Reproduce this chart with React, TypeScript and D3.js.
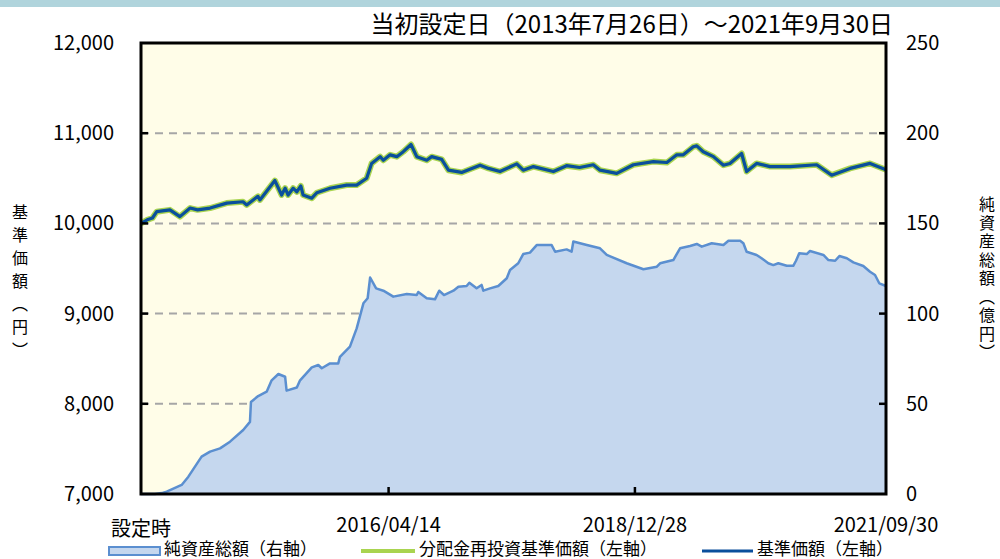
import React from 'react';
import * as d3 from 'd3';

const WIDTH = 1000;
const HEIGHT = 559;

const startDate = '2013-07-26';
const endDate = '2021-09-30';

const leftTicks = [7000, 8000, 9000, 10000, 11000, 12000];
const rightTicks = [0, 50, 100, 150, 200, 250];
const gridValues = [8000, 9000, 10000, 11000];
const dateTicks = ['2016-04-14', '2018-12-28'];
const dateLabels = [
  { date: '2016-04-14', label: '2016/04/14' },
  { date: '2018-12-28', label: '2018/12/28' },
  { date: '2021-09-30', label: '2021/09/30' },
];

// 基準価額 (円) — 分配金再投資基準価額 is identical (no distributions)
const navPoints: [string, number][] = [
  ['2013-07-26', 10000], ['2013-08-20', 10040], ['2013-09-10', 10060], ['2013-09-27', 10130],
  ['2013-11-19', 10150], ['2013-12-29', 10075], ['2014-02-08', 10170], ['2014-03-10', 10150],
  ['2014-04-29', 10170], ['2014-07-05', 10225], ['2014-09-08', 10240], ['2014-09-23', 10205],
  ['2014-11-07', 10300], ['2014-11-15', 10260], ['2015-01-14', 10475], ['2015-02-10', 10315],
  ['2015-02-24', 10390], ['2015-03-08', 10315], ['2015-03-28', 10390], ['2015-04-12', 10350],
  ['2015-04-28', 10415], ['2015-05-07', 10315], ['2015-06-11', 10280], ['2015-07-01', 10340],
  ['2015-08-23', 10390], ['2015-10-29', 10425], ['2015-12-08', 10425], ['2016-01-17', 10500],
  ['2016-02-06', 10665], ['2016-03-11', 10740], ['2016-03-24', 10700], ['2016-04-20', 10760],
  ['2016-05-17', 10740], ['2016-06-12', 10795], ['2016-07-13', 10875], ['2016-08-05', 10740],
  ['2016-09-14', 10700], ['2016-10-04', 10740], ['2016-11-13', 10710], ['2016-12-10', 10590],
  ['2017-02-01', 10565], ['2017-04-16', 10645], ['2017-05-20', 10610], ['2017-07-05', 10575],
  ['2017-09-10', 10660], ['2017-10-06', 10590], ['2017-11-16', 10630], ['2018-02-04', 10575],
  ['2018-03-29', 10640], ['2018-05-20', 10620], ['2018-07-14', 10650], ['2018-08-10', 10590],
  ['2018-10-16', 10555], ['2018-12-22', 10650], ['2019-03-12', 10685], ['2019-05-05', 10675],
  ['2019-06-14', 10760], ['2019-07-10', 10760], ['2019-08-19', 10850], ['2019-09-02', 10860],
  ['2019-09-28', 10795], ['2019-11-08', 10740], ['2019-12-18', 10645], ['2020-01-13', 10665],
  ['2020-02-29', 10775], ['2020-03-20', 10575], ['2020-04-29', 10665], ['2020-06-22', 10630],
  ['2020-09-10', 10630], ['2020-12-26', 10650], ['2021-02-24', 10535], ['2021-05-09', 10610],
  ['2021-07-28', 10665], ['2021-09-30', 10595],
];

// 純資産総額 (億円)
const assetPoints: [string, number][] = [
  ['2013-07-26', 0], ['2013-09-20', 0], ['2013-10-17', 0.5], ['2013-11-06', 1.3],
  ['2014-01-05', 5], ['2014-02-01', 9.6], ['2014-03-26', 20.7], ['2014-04-29', 23.5],
  ['2014-06-08', 25.3], ['2014-07-18', 29], ['2014-09-09', 35.5], ['2014-10-06', 40],
  ['2014-10-10', 51], ['2014-11-08', 54.3], ['2014-12-12', 56.7], ['2015-01-01', 63],
  ['2015-01-28', 66.5], ['2015-02-24', 65], ['2015-03-02', 57.3], ['2015-04-12', 59],
  ['2015-04-25', 63], ['2015-06-11', 70.2], ['2015-07-07', 71.5], ['2015-07-21', 69.7],
  ['2015-08-23', 72.4], ['2015-09-25', 72.4], ['2015-10-02', 76], ['2015-11-11', 81.7],
  ['2015-12-08', 91.8], ['2016-01-04', 105.7], ['2016-01-21', 108.5], ['2016-01-31', 120],
  ['2016-02-24', 114], ['2016-03-24', 112.7], ['2016-05-03', 109.4], ['2016-06-26', 110.9],
  ['2016-08-05', 110.3], ['2016-08-11', 112], ['2016-09-14', 108.5], ['2016-10-17', 107.9],
  ['2016-11-03', 112.7], ['2016-11-22', 110.3], ['2016-12-30', 112.7], ['2017-01-19', 114.9],
  ['2017-02-21', 115.3], ['2017-03-04', 117.1], ['2017-04-02', 114], ['2017-04-22', 115.9],
  ['2017-04-29', 112.7], ['2017-05-26', 114], ['2017-06-28', 115.3], ['2017-08-01', 119.6],
  ['2017-08-14', 124.2], ['2017-09-16', 127.9], ['2017-10-06', 133], ['2017-11-02', 133.8],
  ['2017-11-29', 138], ['2018-01-28', 138], ['2018-02-11', 134.3], ['2018-03-29', 135.6],
  ['2018-04-18', 134.3], ['2018-04-25', 140], ['2018-06-18', 138], ['2018-08-10', 136.2],
  ['2018-09-06', 132.5], ['2018-11-25', 127.9], ['2019-01-31', 124.6], ['2019-03-26', 126],
  ['2019-04-08', 127.9], ['2019-05-31', 129.7], ['2019-06-27', 136.2], ['2019-08-06', 137.5],
  ['2019-09-02', 138.6], ['2019-09-22', 137.1], ['2019-11-01', 139], ['2019-12-18', 138],
  ['2020-01-07', 140.4], ['2020-02-23', 140.4], ['2020-03-07', 139], ['2020-03-20', 134.3],
  ['2020-04-29', 132.5], ['2020-05-19', 130.7], ['2020-06-15', 127.9], ['2020-07-05', 126.9],
  ['2020-07-25', 127.9], ['2020-08-28', 126.5], ['2020-09-23', 126.5], ['2020-10-04', 129.3],
  ['2020-10-17', 133.4], ['2020-11-16', 133], ['2020-11-29', 134.7], ['2021-01-22', 132.5],
  ['2021-02-11', 129.7], ['2021-03-10', 129.3], ['2021-03-27', 131.9], ['2021-04-26', 130.7],
  ['2021-05-22', 128.4], ['2021-07-01', 126.4], ['2021-07-28', 123.2], ['2021-08-17', 121.4],
  ['2021-09-03', 116.8], ['2021-09-30', 115.3],
];

const leftTitle = '基準価額（円）';
const rightTitle = '純資産総額（億円）';

const FONT = '"Noto Sans CJK JP", "Noto Sans", sans-serif';
const parse = d3.timeParse('%Y-%m-%d');

export default function App() {
  const plot = { left: 141, right: 886, top: 43, bottom: 494 };

  const x = d3.scaleTime()
    .domain([parse(startDate)!, parse(endDate)!])
    .range([plot.left, plot.right]);
  const yL = d3.scaleLinear().domain([7000, 12000]).range([plot.bottom, plot.top]);
  const yR = d3.scaleLinear().domain([0, 250]).range([plot.bottom, plot.top]);

  const navLine = d3.line<[string, number]>()
    .x(d => x(parse(d[0])!))
    .y(d => yL(d[1]));
  const assetArea = d3.area<[string, number]>()
    .x(d => x(parse(d[0])!))
    .y0(yR(0))
    .y1(d => yR(d[1]));
  const assetLine = d3.line<[string, number]>()
    .x(d => x(parse(d[0])!))
    .y(d => yR(d[1]));

  const vertical: React.CSSProperties = { writingMode: 'vertical-rl', textOrientation: 'upright' } as any;

  return (
    <svg width={WIDTH} height={HEIGHT} style={{ position: 'absolute', top: 0, left: 0, background: '#fff' }}
      fontFamily={FONT}>
      <rect x={0} y={0} width={WIDTH} height={7} fill="#b0d4dc" />

      <text x={893} y={33} fontSize={24} textAnchor="end" fill="#000">
        当初設定日（2013年7月26日）～2021年9月30日
      </text>

      <rect x={plot.left} y={plot.top} width={plot.right - plot.left} height={plot.bottom - plot.top} fill="#fffde8" />

      {gridValues.map(v => (
        <line key={v} x1={plot.left} x2={plot.right} y1={yL(v)} y2={yL(v)}
          stroke="#a6a6a6" strokeWidth={2} strokeDasharray="8,6" />
      ))}

      <path d={assetArea(assetPoints) ?? ''} fill="#c5d7ee" />
      <path d={assetLine(assetPoints) ?? ''} fill="none" stroke="#5b8fd0" strokeWidth={2.5} strokeLinejoin="round" />

      <path d={navLine(navPoints) ?? ''} fill="none" stroke="#a9d450" strokeWidth={6} strokeLinejoin="round" />
      <path d={navLine(navPoints) ?? ''} fill="none" stroke="#0a4f9c" strokeWidth={3.2} strokeLinejoin="round" />

      <rect x={plot.left} y={plot.top} width={plot.right - plot.left} height={plot.bottom - plot.top}
        fill="none" stroke="#000" strokeWidth={3} />

      {leftTicks.slice(1, -1).map(v => (
        <line key={'lt' + v} x1={plot.left} x2={plot.left + 7} y1={yL(v)} y2={yL(v)} stroke="#000" strokeWidth={2.5} />
      ))}
      {rightTicks.slice(1, -1).map(v => (
        <line key={'rt' + v} x1={plot.right - 7} x2={plot.right} y1={yR(v)} y2={yR(v)} stroke="#000" strokeWidth={2.5} />
      ))}
      {dateTicks.map(d => (
        <line key={d} x1={x(parse(d)!)} x2={x(parse(d)!)} y1={plot.bottom} y2={plot.bottom - 7} stroke="#000" strokeWidth={2.5} />
      ))}

      {leftTicks.map(v => (
        <text key={'ll' + v} x={114} y={yL(v)} dy="0.35em" fontSize={20} textAnchor="end" fill="#000">
          {d3.format(',')(v)}
        </text>
      ))}
      {rightTicks.map(v => (
        <text key={'rl' + v} x={906} y={yR(v)} dy="0.35em" fontSize={20} textAnchor="start" fill="#000">
          {v}
        </text>
      ))}

      <text x={plot.left} y={536} fontSize={20} textAnchor="middle" fill="#000">設定時</text>
      {dateLabels.map(d => (
        <text key={d.label} x={x(parse(d.date)!)} y={532} fontSize={20} textAnchor="middle" fill="#000">
          {d.label}
        </text>
      ))}

      <text x={20} y={204} fontSize={16} letterSpacing={7} fill="#000" style={vertical}>{leftTitle}</text>
      <text x={987} y={196} fontSize={16} letterSpacing={2.5} fill="#000" style={vertical}>{rightTitle}</text>

      <g fontSize={17} fill="#000">
        <rect x={109} y={547} width={51} height={8} fill="#c5d7ee" stroke="#5b8fd0" strokeWidth={2} />
        <text x={164} y={555}>純資産総額（右軸）</text>
        <line x1={361} x2={415} y1={551} y2={551} stroke="#a9d450" strokeWidth={4} />
        <text x={419} y={555}>分配金再投資基準価額（左軸）</text>
        <line x1={702} x2={753} y1={551} y2={551} stroke="#0a4f9c" strokeWidth={3} />
        <text x={757} y={555}>基準価額（左軸）</text>
      </g>
    </svg>
  );
}
